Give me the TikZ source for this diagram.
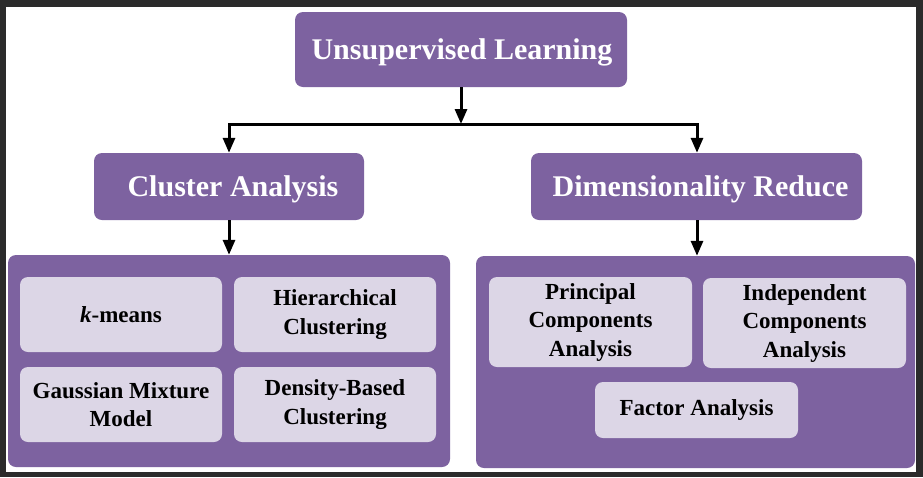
\documentclass[tikz,border=0pt]{standalone}
\usepackage{fontspec}
\setmainfont{Liberation Serif}
\usetikzlibrary{arrows.meta}
\definecolor{purp}{HTML}{7D62A0}
\definecolor{lpurp}{HTML}{DCD6E6}
\definecolor{frame}{HTML}{2B2B2B}
\newcommand{\hdrtext}[2]{\raisebox{-3pt}[\height][\depth]{\hspace*{#1}#2}}
\tikzset{
  hdr/.style={fill=purp, rounded corners=8pt, text=white, font=\bfseries\fontsize{30}{36}\selectfont, inner sep=0pt},
  cont/.style={fill=purp, rounded corners=8pt, inner sep=0pt},
  item/.style={fill=lpurp, rounded corners=8pt, text=black, align=center, font=\bfseries\fontsize{23}{28.5}\selectfont, inner sep=0pt},
  arr/.style={line width=3pt, -{Triangle[length=15pt,width=12pt]}},
  ln/.style={line width=3pt}
}
\begin{document}
\begin{tikzpicture}[x=1pt,y=-1pt]
\fill[frame] (0,0) rectangle (923,477);
\fill[white] (6,7) rectangle (916,472);
\useasboundingbox (0,0) rectangle (923,477);
\node[hdr, minimum width=332pt, minimum height=75pt] (top) at (461,49.5) {\hdrtext{2pt}{Unsupervised Learning}};
\node[hdr, minimum width=270pt, minimum height=67pt] (clu) at (229,186.5) {\hdrtext{8pt}{Cluster Analysis}};
\node[hdr, minimum width=331pt, minimum height=67pt] (dim) at (696.5,186.5) {\hdrtext{8pt}{Dimensionality Reduce}};
\node[cont, minimum width=442pt, minimum height=212pt] (lc) at (229,361) {};
\node[cont, minimum width=439pt, minimum height=212pt] (rc) at (695.5,362) {};
\node[item, minimum width=202pt, minimum height=75pt] (km) at (121,314.5) {\textit{k}-means};
\node[item, minimum width=202pt, minimum height=75pt] (hc) at (335,314.5) {Hierarchical\\Clustering};
\node[item, minimum width=202pt, minimum height=75pt] (gmm) at (121,404.5) {Gaussian Mixture\\Model};
\node[item, minimum width=202pt, minimum height=75pt] (db) at (335,404.5) {Density-Based\\Clustering};
\node[item, minimum width=203pt, minimum height=90pt] (pca) at (590.5,322) {Principal\\Components\\Analysis};
\node[item, minimum width=203pt, minimum height=90pt] (ica) at (804.5,323) {Independent\\Components\\Analysis};
\node[item, minimum width=203pt, minimum height=56pt] (fa) at (696.5,410) {Factor Analysis};
\coordinate (j) at (461,124);
\coordinate (jl) at (229,124);
\coordinate (jr) at (697,124);
\draw[arr] (top.south) -- (j);
\draw[ln, line cap=rect] (jl) -- (jr);
\draw[arr] (jl) -- (clu.north);
\draw[arr] (jr) -- (jr |- dim.north);
\draw[arr] (clu.south) -- (lc.north);
\draw[arr] (jr |- dim.south) -- (jr |- rc.north);
\end{tikzpicture}
\end{document}
